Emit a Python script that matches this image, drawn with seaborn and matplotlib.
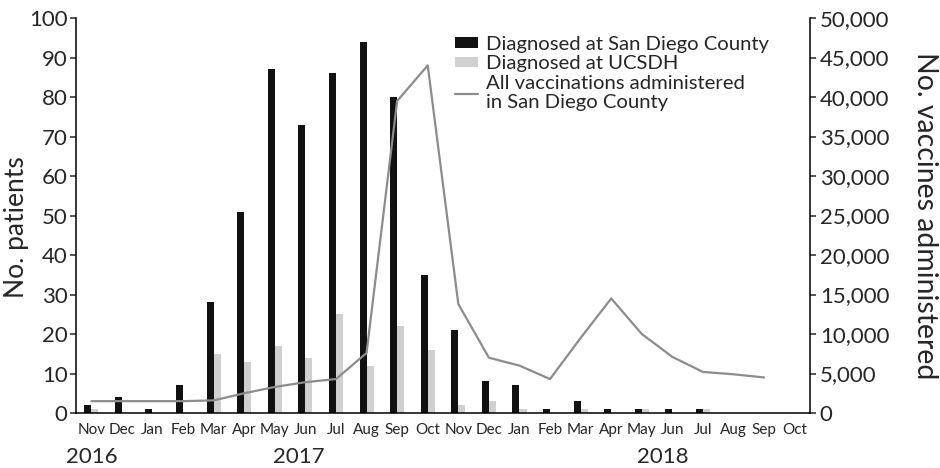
import numpy as np
import pandas as pd
import matplotlib
matplotlib.use("Agg")
import matplotlib.pyplot as plt
import matplotlib.transforms as mtransforms
from matplotlib.patches import Patch
from matplotlib.lines import Line2D
import seaborn as sns

months = ["Nov", "Dec", "Jan", "Feb", "Mar", "Apr", "May", "Jun", "Jul", "Aug", "Sep", "Oct",
          "Nov", "Dec", "Jan", "Feb", "Mar", "Apr", "May", "Jun", "Jul", "Aug", "Sep", "Oct"]
san_diego = [2, 4, 1, 7, 28, 51, 87, 73, 86, 94, 80, 35, 21, 8, 7, 1, 3, 1, 1, 1, 1, 0, 0, 0]
ucsdh = [1, 0, 0, 0, 15, 13, 17, 14, 25, 12, 22, 16, 2, 3, 1, 0, 1, 0, 1, 0, 1, 0, 0, 0]
vaccinations = [1500, 1500, 1500, 1500, 1600, 2500, 3300, 3900, 4300, 7600, 39500, 44000,
                13800, 7000, 6000, 4300, 9500, 14500, 10000, 7100, 5200, 4900, 4500]
years = ["2016", "2017", "2018"]
year_pos = [0, 6.8, 18.7]

series_names = ["Diagnosed at San Diego County", "Diagnosed at UCSDH"]
line_name = "All vaccinations administered\nin San Diego County"

sns.set_style("white")
plt.rcParams["font.family"] = ["Lato", "DejaVu Sans"]

idx = list(range(len(months)))
df = pd.DataFrame({
    "idx": idx * 2,
    "count": san_diego + ucsdh,
    "series": [series_names[0]] * len(months) + [series_names[1]] * len(months),
})

fig = plt.figure(figsize=(9.4, 4.68), dpi=100)
ax = fig.add_axes([0.0809, 0.1175, 0.7808, 0.844])
sns.barplot(data=df, x="idx", y="count", hue="series", ax=ax,
            palette=["#111111", "#d0d0d0"], width=0.46, dodge=True,
            legend=False, saturation=1, linewidth=0, errorbar=None)
ax.set_xlim(-0.5, len(months) - 0.5)
ax.set_ylim(0, 100)
ax.set_yticks(np.arange(0, 101, 10))
ax.set_xticks(idx)
ax.set_xticklabels(months)
ax.set_xticks(np.arange(-0.5, len(months), 1), minor=True)
ax.tick_params(axis="x", which="major", length=0, labelsize=11, pad=7)
ax.tick_params(axis="x", which="minor", length=5, width=1.1, direction="out")
ax.tick_params(axis="y", length=4, width=1.1, direction="out", labelsize=16, pad=2)
ax.set_xlabel("")
ax.set_ylabel("No. patients", fontsize=19, labelpad=0)
ax.yaxis.label.set_y(0.47)
for s in ["top", "right"]:
    ax.spines[s].set_visible(False)
for s in ["left", "bottom"]:
    ax.spines[s].set_linewidth(1.1)
    ax.spines[s].set_color("black")

ax2 = ax.twinx()
sns.lineplot(x=list(range(len(vaccinations))), y=vaccinations, ax=ax2,
             color="#8c8c8c", linewidth=1.6)
ax2.set_ylim(0, 50000)
ax2.set_yticks(np.arange(0, 50001, 5000))
ax2.set_yticklabels([f"{v:,}" for v in range(0, 50001, 5000)])
ax2.tick_params(axis="y", length=4, width=1.1, direction="out", labelsize=16, pad=3)
ax2.set_ylabel("No. vaccines administered", fontsize=20.4, rotation=270, labelpad=35)
ax2.set_xlim(-0.5, len(months) - 0.5)
for s in ["top", "left", "bottom"]:
    ax2.spines[s].set_visible(False)
ax2.spines["right"].set_linewidth(1.1)
ax2.spines["right"].set_color("black")

trans = mtransforms.blended_transform_factory(ax.transData, ax.transAxes)
for y, p in zip(years, year_pos):
    ax.text(p, -0.085, y, transform=trans, ha="center", va="top", fontsize=16)

handles = [Patch(facecolor="#111111", edgecolor="none"),
           Patch(facecolor="#d0d0d0", edgecolor="none"),
           Line2D([0], [0], color="#8c8c8c", linewidth=1.6)]
ax2.legend(handles, series_names + [line_name], loc="upper left",
           bbox_to_anchor=(0.516, 0.955), frameon=False, fontsize=14.6,
           handlelength=1.15, handleheight=0.4, handletextpad=0.4,
           labelspacing=0.12, borderaxespad=0, borderpad=0)

fig.savefig("out.png", dpi=100)
